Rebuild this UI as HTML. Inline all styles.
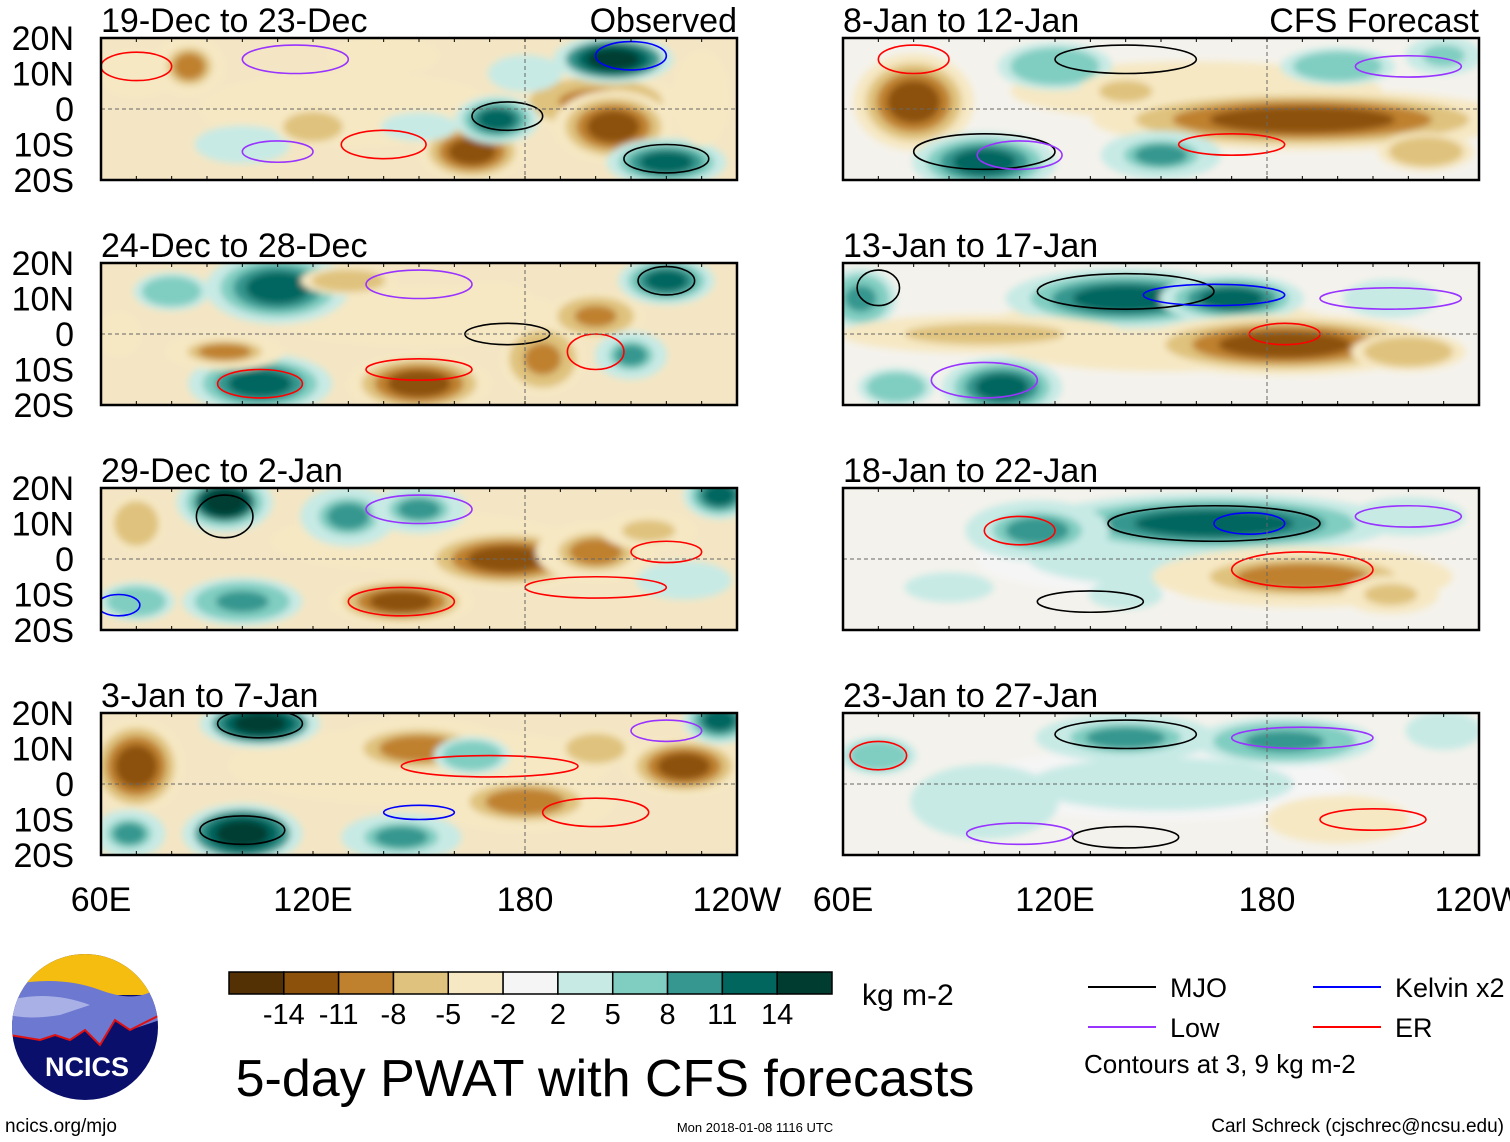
<!DOCTYPE html>
<html><head><meta charset="utf-8"><style>
html,body{margin:0;padding:0;background:#fff;}
svg{display:block;font-family:"Liberation Sans",Arial,sans-serif;}
</style></head><body>
<svg id="chart" width="1510" height="1142" viewBox="0 0 1510 1142">
<defs><filter id="bl" x="-20%" y="-20%" width="140%" height="140%"><feGaussianBlur stdDeviation="3.5"/></filter></defs>
</svg>
<script>
const panelTitles=["19-Dec to 23-Dec","24-Dec to 28-Dec","29-Dec to 2-Jan","3-Jan to 7-Jan","8-Jan to 12-Jan","13-Jan to 17-Jan","18-Jan to 22-Jan","23-Jan to 27-Jan"];
const latTicks=["20N","10N","0","10S","20S"];
const latVals=[20,10,0,-10,-20];
const lonTicks=["60E","120E","180","120W"];
const lonVals=[60,120,180,240];
const cbLabels=["-14","-11","-8","-5","-2","2","5","8","11","14"];
const cbThresh=[-14,-11,-8,-5,-2,2,5,8,11,14];
const cbColors=["#543005","#8c510a","#bf812d","#dfc27d","#f6e8c3","#f5f5f5","#c7eae5","#80cdc1","#35978f","#01665e","#003c30"];
// blobs: [lon, lat, rlon, rlat, value]
const blobs0=[[130,0,40,10,-3],[100,-10,10,4,4],[70,10,8,5,-4],[85,12,6,5,-7],[200,2,14,5,-9],[205,-5,10,6,-12],[165,-12,9,5,-10],[172,-3,7,4,12],[205,14,10,4,14],[220,-15,10,4,11],[230,3,6,10,-4],[140,15,15,5,-3],[180,10,10,5,3],[120,-5,8,4,-6],[150,-5,8,3,4]];
const blobs1=[[150,5,40,8,-3],[110,13,12,6,12],[105,-14,12,5,12],[150,-14,12,5,-12],[185,-7,7,6,-9],[200,5,8,4,-9],[95,-5,10,3,-8],[210,-6,6,4,8],[220,15,8,4,10],[170,8,10,5,-4],[65,0,6,6,-3],[80,12,8,4,6],[130,15,10,3,-6]];
const blobs2=[[150,5,40,8,-3],[95,16,8,5,13],[175,0,15,5,-12],[200,2,10,5,-8],[145,-12,12,4,-10],[130,12,8,5,8],[150,14,8,4,7],[100,-12,10,4,9],[235,18,6,4,12],[215,8,10,4,-5],[70,10,6,6,-6],[225,-6,10,4,4],[70,-12,8,4,6]];
const blobs3=[[150,5,40,8,-4],[105,17,10,4,14],[70,5,8,8,-10],[150,10,15,5,-8],[180,-5,15,5,-8],[225,5,10,5,-11],[100,-14,10,5,14],[68,-14,6,4,8],[145,-15,10,4,8],[235,18,6,4,12],[165,8,8,4,6],[200,10,8,4,-6]];
const blobs4=[[160,5,50,8,-3],[80,2,10,8,-11],[190,-3,35,5,-12],[100,-15,12,5,12],[150,-13,10,4,8],[120,12,12,5,6],[200,12,12,4,6],[140,5,10,4,-5],[230,15,8,4,5],[225,-12,10,4,-6]];
const blobs5=[[150,0,50,10,-3],[140,10,20,5,12],[170,10,12,4,10],[185,-3,25,5,-12],[65,10,6,5,9],[105,-15,10,5,11],[75,-15,8,4,6],[100,0,30,4,-5],[215,10,10,4,4],[220,-5,12,4,-6]];
const blobs6=[[150,0,50,10,2],[165,10,30,5,12],[115,8,12,5,8],[190,-5,25,5,-7],[90,-8,12,4,3],[215,-10,10,4,-5],[140,-10,10,4,3],[220,12,12,4,4]];
const blobs7=[[150,0,50,10,2],[140,13,15,4,8],[185,12,15,4,9],[100,-5,20,10,3],[70,8,8,4,6],[200,-10,15,5,-4],[230,15,8,4,4]];
const allBlobs=[blobs0,blobs1,blobs2,blobs3,blobs4,blobs5,blobs6,blobs7];
// contours: [lon, lat, rlon, rlat, type]
const contourTypes=["#000","#9933ff","#0000ff","#ff0000"];
const cont0=[[175,-2,10,4,0],[210,15,10,4,2],[220,-14,12,4,0],[110,-12,10,3,1],[140,-10,12,4,3],[70,12,10,4,3],[115,14,15,4,1]];
const cont1=[[175,0,12,3,0],[105,-14,12,4,3],[200,-5,8,5,3],[150,-10,15,3,3],[150,14,15,4,1],[220,15,8,4,0]];
const cont2=[[95,12,8,6,0],[145,-12,15,4,3],[200,-8,20,3,3],[220,2,10,3,3],[150,14,15,4,1],[65,-13,6,3,2]];
const cont3=[[100,-13,12,4,0],[105,17,12,4,0],[200,-8,15,4,3],[170,5,25,3,3],[150,-8,10,2,2],[220,15,10,3,1]];
const cont4=[[100,-12,20,5,0],[80,14,10,4,3],[140,14,20,4,0],[220,12,15,3,1],[110,-13,12,4,1],[170,-10,15,3,3]];
const cont5=[[140,12,25,5,0],[165,11,20,3,2],[185,0,10,3,3],[100,-13,15,5,1],[215,10,20,3,1],[70,13,6,5,0]];
const cont6=[[165,10,30,5,0],[175,10,10,3,2],[190,-3,20,5,3],[110,8,10,4,3],[220,12,15,3,1],[130,-12,15,3,0]];
const cont7=[[140,14,20,4,0],[190,13,20,3,1],[70,8,8,4,3],[210,-10,15,3,3],[140,-15,15,3,0],[110,-14,15,3,1]];
const allCont=[cont0,cont1,cont2,cont3,cont4,cont5,cont6,cont7];

const NS="http://www.w3.org/2000/svg";
const svg=document.getElementById('chart');
function mk(t,a,p){const e=document.createElementNS(NS,t);for(const k in a)e.setAttribute(k,a[k]);(p||svg).appendChild(e);return e;}
function colorFor(v){let i=0;while(i<cbThresh.length&&v>cbThresh[i])i++;return cbColors[i];}
const PW=636,PH=142;
const px0=[101,843],py0=[38,263,488,713];
function xScale(lon,col){return px0[col]+(lon-60)/180*PW;}
function yScale(lat,row){return py0[row]+(20-lat)/40*PH;}

for(let p=0;p<8;p++){
  const col=p<4?0:1,row=p%4;
  const x0=px0[col],y0=py0[row];
  const g=mk('g',{});
  
  
  const cid='clip'+p;
  const cp=mk('clipPath',{id:cid});mk('rect',{x:x0,y:y0,width:PW,height:PH},cp);
  mk('rect',{x:x0,y:y0,width:PW,height:PH,fill:col==0?'#f4e6c4':'#f4f2ec'},g);
  const fg=mk('g',{'clip-path':'url(#'+cid+')'},g);
  const bg=mk('g',{filter:'url(#bl)'},fg);
  allBlobs[p].forEach(b=>{
    const v=b[4];
    [1.7,1.35,1.05,0.75].forEach((s,i)=>{
      const val=v*[0.35,0.6,0.85,1.15][i];
      if(Math.abs(val)<2.1&&i<2)return;
      const e=mk('ellipse',{cx:xScale(b[0],col),cy:yScale(b[1],row),rx:b[2]/180*PW*s,ry:b[3]/40*PH*s,fill:colorFor(val)},bg);
      
      
    });
  });
  allCont[p].forEach(c=>{
    const e=mk('ellipse',{cx:xScale(c[0],col),cy:yScale(c[1],row),rx:c[2]/180*PW,ry:c[3]/40*PH,fill:'none',stroke:contourTypes[c[4]],'stroke-width':1.6},fg);
    
    
  });
  mk('line',{x1:x0,x2:x0+PW,y1:yScale(0,row),y2:yScale(0,row),stroke:'#666','stroke-dasharray':'4,3','stroke-width':1},g);
  mk('line',{x1:xScale(180,col),x2:xScale(180,col),y1:y0,y2:y0+PH,stroke:'#666','stroke-dasharray':'4,3','stroke-width':1},g);
  mk('rect',{x:x0,y:y0,width:PW,height:PH,fill:'none',stroke:'#000','stroke-width':2.5},g);
  for(let lon=60;lon<=240;lon+=10){const x=xScale(lon,col);mk('line',{x1:x,x2:x,y1:y0,y2:y0+4,stroke:'#000'},g);mk('line',{x1:x,x2:x,y1:y0+PH,y2:y0+PH-4,stroke:'#000'},g);}
  const t=mk('text',{x:x0,y:y0-6,'font-size':34},g);t.textContent=panelTitles[p];
  
  if(col==0){latVals.forEach((l,i)=>{const tt=mk('text',{x:74,y:yScale(l,row)+12,'font-size':34,'text-anchor':'end'},g);tt.textContent=latTicks[i];
    });}
  if(row==3){lonVals.forEach((l,i)=>{const tt=mk('text',{x:xScale(l,col),y:911,'font-size':34,'text-anchor':'middle'},g);tt.textContent=lonTicks[i];
    });}
}
let t=mk('text',{x:737,y:32,'font-size':34,'text-anchor':'end'});t.textContent='Observed';

t=mk('text',{x:1479,y:32,'font-size':34,'text-anchor':'end'});t.textContent='CFS Forecast';


// colorbar
const cb=mk('g',{});
const cw=(832-229)/11;
cbColors.forEach((c,i)=>mk('rect',{x:229+i*cw,y:972,width:cw,height:22,fill:c,stroke:'#000','stroke-width':1.5},cb));
cbLabels.forEach((l,i)=>{const e=mk('text',{x:229+(i+1)*cw,y:1024,'font-size':29,'text-anchor':'middle'},cb);e.textContent=l;});
t=mk('text',{x:862,y:1005,'font-size':30});t.textContent='kg m-2';

t=mk('text',{x:605,y:1096,'font-size':52,'text-anchor':'middle'});t.textContent='5-day PWAT with CFS forecasts';


// legend
const lg=mk('g',{});
[["MJO",1088,987,0],["Low",1088,1027,1],["Kelvin x2",1313,987,2],["ER",1313,1027,3]].forEach(d=>{
  mk('line',{x1:d[1],x2:d[1]+68,y1:d[2],y2:d[2],stroke:contourTypes[d[3]],'stroke-width':2},lg);
  const e=mk('text',{x:d[1]+82,y:d[2]+10,'font-size':27},lg);e.textContent=d[0];});
t=mk('text',{x:1084,y:1073,'font-size':26},lg);t.textContent='Contours at 3, 9 kg m-2';

// logo
const lo=mk('g',{});
mk('clipPath',{id:'lc'}).appendChild(document.createElementNS(NS,'circle'));
document.querySelector('#lc circle').setAttribute('cx',85);document.querySelector('#lc circle').setAttribute('cy',1027);document.querySelector('#lc circle').setAttribute('r',73);
const lgc=mk('g',{'clip-path':'url(#lc)'},lo);
mk('rect',{x:10,y:950,width:150,height:160,fill:'#0a0f6b'},lgc);
mk('rect',{x:10,y:950,width:150,height:45,fill:'#f5bd10'},lgc);
mk('path',{d:'M10 985 Q60 975 100 990 T160 985 L160 1020 L130 1030 L115 1020 L100 1045 L85 1030 L70 1040 L55 1035 L40 1040 L10 1035 Z',fill:'#6d78d0',stroke:'none'},lgc);
mk('path',{d:'M10 1000 Q50 990 90 1005 L60 1015 Q30 1020 10 1015Z',fill:'#a8b0e6'},lgc);
mk('path',{d:'M10 1035 L40 1040 L55 1035 L70 1040 L85 1030 L100 1045 L115 1020 L130 1030 L160 1015',fill:'none',stroke:'#e01010','stroke-width':2},lgc);
t=mk('text',{x:87,y:1076,'font-size':27,'font-weight':'bold',fill:'#fff','text-anchor':'middle'},lo);t.textContent='NCICS';

t=mk('text',{x:5,y:1132,'font-size':19});t.textContent='ncics.org/mjo';

t=mk('text',{x:755,y:1132,'font-size':13,'text-anchor':'middle'});t.textContent='Mon 2018-01-08 1116 UTC';

t=mk('text',{x:1504,y:1132,'font-size':19,'text-anchor':'end'});t.textContent='Carl Schreck (cjschrec@ncsu.edu)';

</script>
</body></html>
